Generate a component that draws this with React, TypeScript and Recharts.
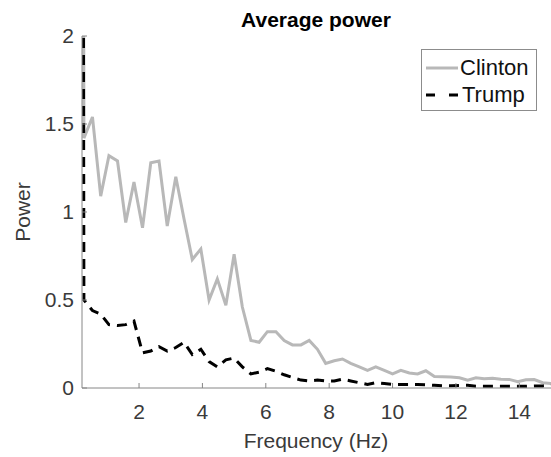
import React from "react";
import { LineChart, Line, XAxis, YAxis, Legend } from "recharts";

// frequency bins (Hz), bin 0 is the DC term which runs off the top of the axes
const FREQ = [
  0, 0.26, 0.53, 0.79, 1.05, 1.32, 1.58, 1.84, 2.11, 2.37, 2.63, 2.89, 3.16, 3.42, 3.68, 3.95,
  4.21, 4.47, 4.74, 5.0, 5.26, 5.53, 5.79, 6.05, 6.32, 6.58, 6.84, 7.11, 7.37, 7.63, 7.89, 8.16,
  8.42, 8.68, 8.95, 9.21, 9.47, 9.74, 10.0, 10.26, 10.53, 10.79, 11.05, 11.32, 11.58, 11.84,
  12.11, 12.37, 12.63, 12.89, 13.16, 13.42, 13.68, 13.95, 14.21, 14.47, 14.74, 15.0,
];

const CLINTON = [
  30, 1.42, 1.54, 1.09, 1.32, 1.29, 0.94, 1.17, 0.91, 1.28, 1.29, 0.92, 1.2, 0.96, 0.73, 0.79,
  0.5, 0.62, 0.47, 0.76, 0.46, 0.27, 0.26, 0.32, 0.32, 0.27, 0.245, 0.245, 0.27, 0.22, 0.14,
  0.155, 0.165, 0.14, 0.12, 0.1, 0.12, 0.1, 0.08, 0.1, 0.085, 0.08, 0.098, 0.065, 0.064, 0.062,
  0.058, 0.045, 0.058, 0.052, 0.055, 0.05, 0.049, 0.036, 0.047, 0.048, 0.03, 0.025,
];

const TRUMP = [
  30, 0.5, 0.44, 0.42, 0.36, 0.355, 0.36, 0.38, 0.2, 0.21, 0.235, 0.21, 0.23, 0.26, 0.19, 0.22,
  0.15, 0.12, 0.16, 0.17, 0.12, 0.08, 0.09, 0.11, 0.095, 0.075, 0.06, 0.045, 0.04, 0.045, 0.04,
  0.04, 0.05, 0.04, 0.03, 0.02, 0.03, 0.025, 0.02, 0.02, 0.02, 0.02, 0.018, 0.015, 0.012, 0.013,
  0.015, 0.015, 0.01, 0.01, 0.01, 0.01, 0.01, 0.01, 0.01, 0.012, 0.012, 0.015,
];

const X_TICKS = [2, 4, 6, 8, 10, 12, 14];
const Y_TICKS = [0, 0.5, 1, 1.5, 2];

const data = FREQ.map((f, i) => ({ f, clinton: CLINTON[i], trump: TRUMP[i] }));

const FONT = "'Liberation Sans', Arial, sans-serif";
const AXIS = "#868686";
const TEXT = "#3a3a3a";
const GRAY = "#b8b8b8";

const W = 551;
const H = 457;
const TOP = 36;
const LEFT = 82;
const BOTTOM = 69;

function XTick(props: any) {
  const { x, payload } = props;
  const y0 = H - BOTTOM;
  return (
    <g>
      <line x1={x} y1={y0} x2={x} y2={y0 - 5} stroke={AXIS} />
      <text x={x} y={y0 + 31} textAnchor="middle" fontSize={21} fill={TEXT} fontFamily={FONT}>
        {payload.value}
      </text>
    </g>
  );
}

function YTick(props: any) {
  const { y, payload } = props;
  return (
    <g>
      <line x1={LEFT} y1={y} x2={LEFT + 5} y2={y} stroke={AXIS} />
      <text x={LEFT - 8} y={y + 7} textAnchor="end" fontSize={21} fill={TEXT} fontFamily={FONT}>
        {payload.value}
      </text>
    </g>
  );
}

function LegendBox() {
  return (
    <div
      style={{
        width: 114,
        height: 60,
        border: "1px solid #8c8c8c",
        background: "#fff",
        fontFamily: FONT,
        fontSize: 22,
        color: "#111",
        position: "relative",
      }}
    >
      <svg width={40} height={60} style={{ position: "absolute", left: 0, top: 0 }}>
        <line x1={4} y1={18} x2={36} y2={18} stroke={GRAY} strokeWidth={3} />
        <line x1={4} y1={45} x2={36} y2={45} stroke="#000" strokeWidth={3} strokeDasharray="9 14" />
      </svg>
      <div style={{ position: "absolute", left: 38, top: 5, lineHeight: "25px" }}>Clinton</div>
      <div style={{ position: "absolute", left: 40, top: 32, lineHeight: "25px" }}>Trump</div>
    </div>
  );
}

export default function App() {
  return (
    <div style={{ position: "relative", width: W, height: H, background: "#fff" }}>
      <style>{`body{margin:0}`}</style>
      <LineChart width={W} height={H} data={data} margin={{ top: TOP, right: 0, bottom: 0, left: 0 }}>
        <XAxis
          type="number"
          dataKey="f"
          domain={[0.2, 15]}
          allowDataOverflow
          ticks={X_TICKS}
          height={BOTTOM}
          stroke={AXIS}
          tickLine={false}
          tick={<XTick />}
          interval={0}
        />
        <YAxis
          type="number"
          domain={[0, 2]}
          allowDataOverflow
          ticks={Y_TICKS}
          width={LEFT}
          stroke={AXIS}
          tickLine={false}
          tick={<YTick />}
          interval={0}
        />
        <Legend
          layout="horizontal"
          verticalAlign="middle"
          align="center"
          content={() => <LegendBox />}
          wrapperStyle={{ position: "absolute", left: 421, top: 49, width: 116, height: 62 }}
        />
        <Line
          dataKey="clinton"
          name="Clinton"
          type="linear"
          stroke={GRAY}
          strokeWidth={3}
          dot={false}
          isAnimationActive={false}
        />
        <Line
          dataKey="trump"
          name="Trump"
          type="linear"
          stroke="#000"
          strokeWidth={3}
          strokeDasharray="10 7"
          dot={false}
          isAnimationActive={false}
        />
        <text x={316} y={27} textAnchor="middle" fontSize={21} fontWeight="bold" fontFamily={FONT} fill="#000">
          Average power
        </text>
        <text x={316} y={448} textAnchor="middle" fontSize={21} fontFamily={FONT} fill={TEXT}>
          Frequency (Hz)
        </text>
        <text
          x={30}
          y={212}
          textAnchor="middle"
          fontSize={21}
          fontFamily={FONT}
          fill={TEXT}
          transform="rotate(-90 30 212)"
        >
          Power
        </text>
      </LineChart>
    </div>
  );
}
